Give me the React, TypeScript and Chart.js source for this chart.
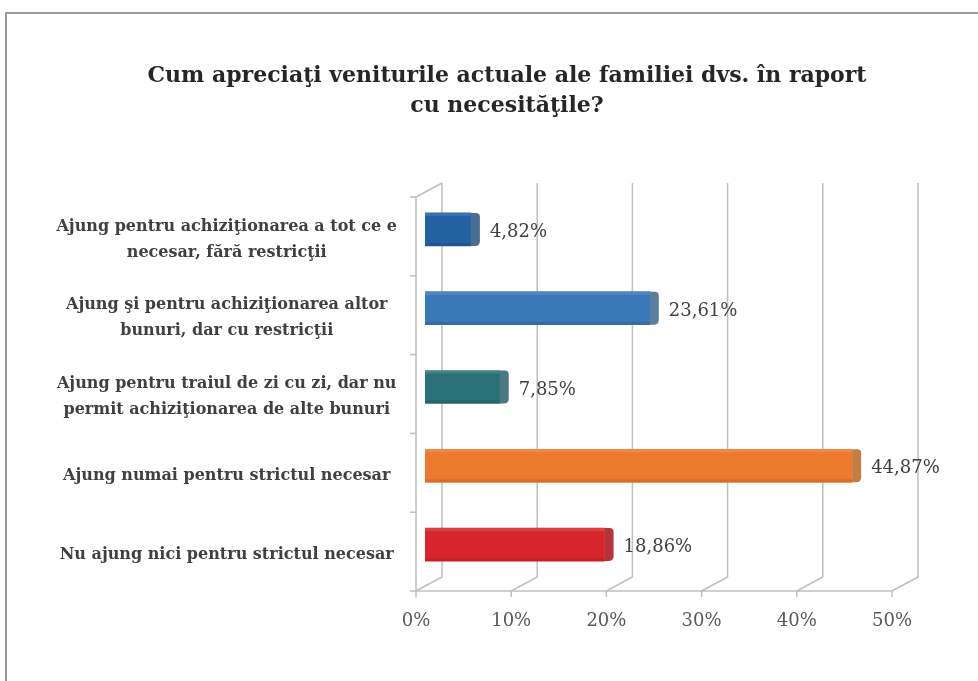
import React, { useEffect, useRef } from 'react';
import { Chart, registerables } from 'chart.js';

Chart.register(...registerables);

const titleLines = ['Cum apreciaţi veniturile actuale ale familiei dvs. în raport', 'cu necesităţile?'];
const categories = [
  ['Ajung pentru achiziţionarea a tot ce e', 'necesar, fără restricţii'],
  ['Ajung şi pentru achiziţionarea altor', 'bunuri, dar cu restricţii'],
  ['Ajung pentru traiul de zi cu zi, dar nu', 'permit achiziţionarea de alte bunuri'],
  ['Ajung numai pentru strictul necesar'],
  ['Nu ajung nici pentru strictul necesar'],
];
const values = [4.82, 23.61, 7.85, 44.87, 18.86];
const valueLabels = ['4,82%', '23,61%', '7,85%', '44,87%', '18,86%'];
const barColors = ['#2461a3', '#3a78b8', '#2b7178', '#ee7a30', '#d8252d'];
const capColors = ['#4a6d92', '#5a7c9d', '#4a7883', '#c47b44', '#b5323a'];
const tickValues = [0, 10, 20, 30, 40, 50];

const FONT = "'DejaVu Serif', serif";
const GRID = '#bfbfbf';
const FRONT_DX = -9;
const FRONT_DY = 7;
const BACK_DX = 17;
const BACK_DY = -7;

const titlePlugin = {
  id: 'ownTitle',
  afterDraw(chart: any) {
    const { ctx } = chart;
    ctx.save();
    ctx.fillStyle = '#262626';
    ctx.font = `bold 22px ${FONT}`;
    ctx.textAlign = 'center';
    ctx.textBaseline = 'middle';
    titleLines.forEach((line, i) => {
      ctx.fillText(line, 507, 76 + i * 30);
    });
    ctx.restore();
  },
};

const threeD = {
  id: 'threeD',
  beforeDatasetsDraw(chart: any) {
    const { ctx, chartArea, scales } = chart;
    const { top, bottom, left } = chartArea;
    const x = scales.x;
    ctx.save();
    ctx.strokeStyle = GRID;
    ctx.lineWidth = 1.5;
    tickValues.forEach((v) => {
      const px = x.getPixelForValue(v);
      ctx.beginPath();
      ctx.moveTo(px + BACK_DX, top + BACK_DY);
      ctx.lineTo(px + BACK_DX, bottom + BACK_DY);
      ctx.lineTo(px + FRONT_DX, bottom + FRONT_DY);
      ctx.stroke();
      ctx.beginPath();
      ctx.moveTo(px + FRONT_DX, bottom + FRONT_DY);
      ctx.lineTo(px + FRONT_DX, bottom + FRONT_DY + 6);
      ctx.stroke();
    });
    ctx.beginPath();
    ctx.moveTo(x.getPixelForValue(tickValues[0]) + FRONT_DX, bottom + FRONT_DY);
    ctx.lineTo(x.getPixelForValue(tickValues[tickValues.length - 1]) + FRONT_DX, bottom + FRONT_DY);
    ctx.stroke();
    ctx.beginPath();
    ctx.moveTo(left + BACK_DX, top + BACK_DY);
    ctx.lineTo(left + FRONT_DX, top + FRONT_DY);
    ctx.lineTo(left + FRONT_DX, bottom + FRONT_DY);
    ctx.stroke();
    const n = categories.length;
    const step = (bottom - top) / n;
    for (let i = 0; i <= n; i++) {
      const y = top + FRONT_DY + i * step;
      ctx.beginPath();
      ctx.moveTo(left + FRONT_DX - 6, y);
      ctx.lineTo(left + FRONT_DX, y);
      ctx.stroke();
    }
    ctx.restore();
  },
  afterDatasetsDraw(chart: any) {
    const { ctx } = chart;
    const meta = chart.getDatasetMeta(0);
    ctx.save();
    meta.data.forEach((el: any, i: number) => {
      const { x, y, base, height } = el.getProps(['x', 'y', 'base', 'height'], true);
      const t = y - height / 2;
      const b = y + height / 2;
      ctx.fillStyle = 'rgba(255,255,255,0.12)';
      ctx.fillRect(base, t, x - base, 3);
      ctx.fillStyle = 'rgba(0,0,0,0.10)';
      ctx.fillRect(base, b - 3, x - base, 3);
      ctx.fillStyle = capColors[i];
      ctx.beginPath();
      ctx.moveTo(x, t);
      ctx.lineTo(x + 5, t);
      ctx.quadraticCurveTo(x + 9, t, x + 9, t + 4);
      ctx.lineTo(x + 9, b - 5);
      ctx.quadraticCurveTo(x + 9, b, x + 4, b);
      ctx.lineTo(x, b);
      ctx.closePath();
      ctx.fill();
      ctx.fillStyle = '#404040';
      ctx.font = `18px ${FONT}`;
      ctx.textAlign = 'left';
      ctx.textBaseline = 'middle';
      ctx.fillText(valueLabels[i], x + 19, y + 3);
    });
    ctx.restore();
  },
};

export default function App() {
  const canvasRef = useRef<HTMLCanvasElement | null>(null);

  useEffect(() => {
    if (!canvasRef.current) return;
    const chart = new Chart(canvasRef.current, {
      type: 'bar',
      data: {
        labels: categories,
        datasets: [
          {
            data: values,
            backgroundColor: barColors,
            borderWidth: 0,
            barThickness: 33,
          },
        ],
      },
      options: {
        indexAxis: 'y',
        animation: false,
        responsive: true,
        maintainAspectRatio: false,
        layout: { padding: { left: 0, right: 77, top: 190, bottom: 0 } },
        plugins: {
          legend: { display: false },
          tooltip: { enabled: false },
          title: { display: false },
        },
        scales: {
          x: {
            min: 0,
            max: 50,
            afterBuildTicks: (s: any) => {
              s.ticks = tickValues.map((v) => ({ value: v }));
            },
            afterFit: (s: any) => {
              s.height = 97;
            },
            ticks: {
              callback: (v: any) => `${v}%`,
              labelOffset: FRONT_DX,
              padding: 19,
              color: '#595959',
              font: { family: FONT, size: 18 },
            },
            grid: { display: false },
            border: { display: false },
          },
          y: {
            afterFit: (s: any) => {
              s.width = 425;
            },
            ticks: {
              crossAlign: 'center',
              labelOffset: 10,
              padding: 20,
              color: '#404040',
              font: { family: FONT, size: 16, weight: 'bold', lineHeight: '26px' },
            },
            grid: { display: false },
            border: { display: false },
          },
        },
      },
      plugins: [threeD, titlePlugin],
    } as any);
    return () => chart.destroy();
  }, []);

  return (
    <div style={{ position: 'absolute', left: 0, top: 0, width: 978, height: 681, background: '#fff' }}>
      <div
        style={{
          position: 'absolute',
          left: 5,
          top: 12,
          width: 978,
          height: 681,
          borderTop: '2px solid #9a9a9a',
          borderLeft: '2px solid #9a9a9a',
        }}
      />
      <canvas ref={canvasRef} style={{ position: 'absolute', left: 0, top: 0 }} />
    </div>
  );
}
